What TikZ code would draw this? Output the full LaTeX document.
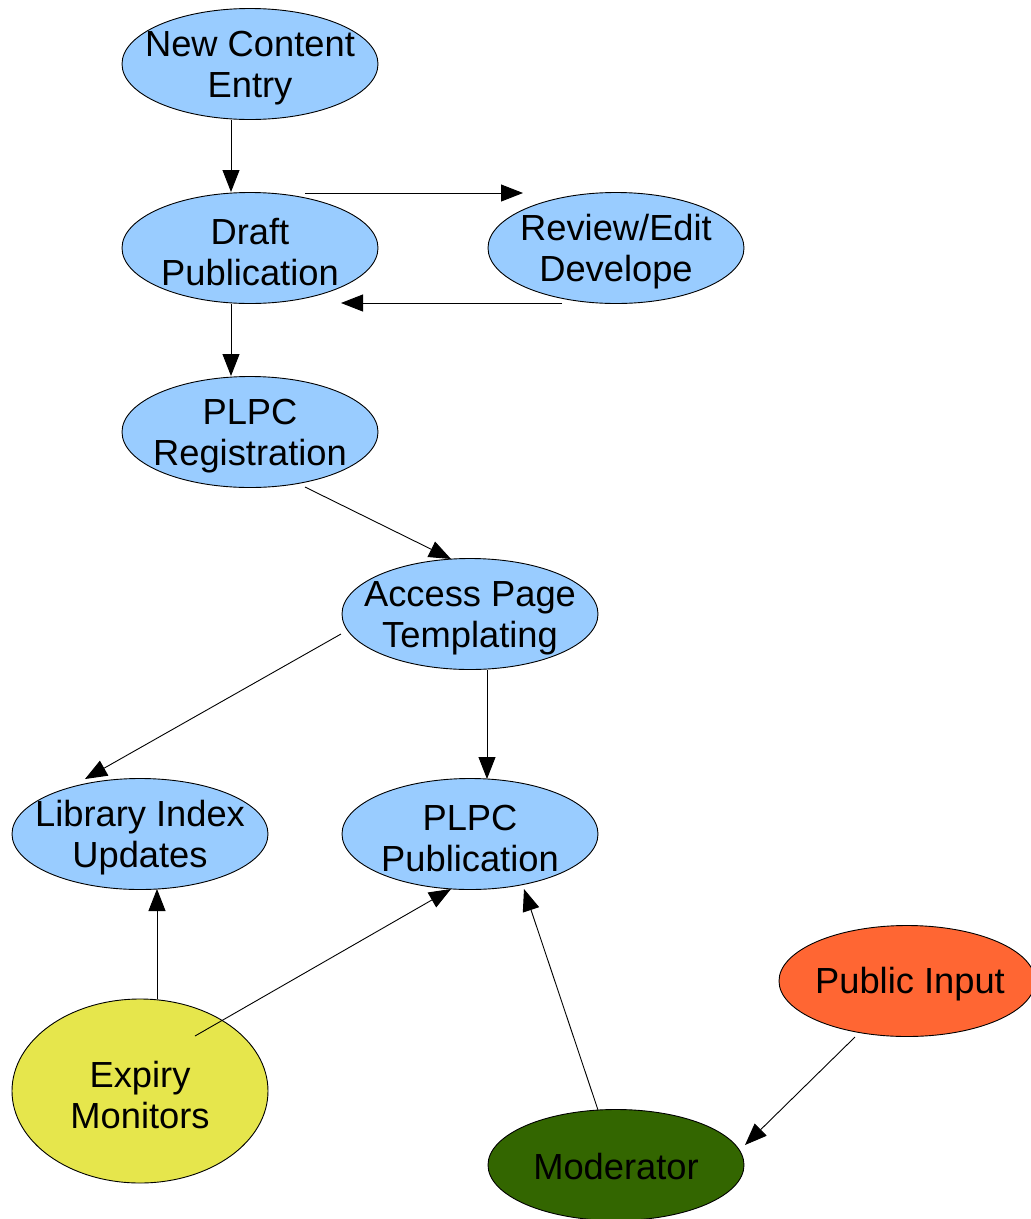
\documentclass[tikz,border=0pt]{standalone}
\usepackage{fontspec}
\setmainfont{Liberation Sans}
\usetikzlibrary{shapes.geometric,arrows.meta,calc}
\definecolor{nodeblue}{RGB}{153,204,255}
\definecolor{expyellow}{RGB}{230,230,76}
\definecolor{puborange}{RGB}{255,102,51}
\definecolor{moddgreen}{RGB}{51,102,0}
\tikzset{
  flowell/.style={shape=ellipse, draw=black, line width=0.9pt, fill=nodeblue,
    minimum width=256pt, minimum height=111pt, inner sep=0pt},
  txt/.style={align=center, font=\fontsize{36.3}{41}\selectfont, inner sep=0pt, yshift=-4pt},
  conn/.style={line width=0.9pt, -{Triangle[length=22pt,width=17pt]}}
}
\begin{document}
\begin{tikzpicture}[x=1pt,y=-1pt]
\useasboundingbox (0,0) rectangle (1031,1219);
\clip (0,0) rectangle (1031,1219);
\node[flowell] (nce) at (250,64) {};
\node[txt] at (nce.center) {New Content\\Entry};
\node[flowell] (draft) at (250,248) {};
\node[txt] at (draft.center) {Draft\\Publication};
\node[flowell] (review) at (616,248) {};
\node[txt] at (review.center) {Review/Edit\\Develope};
\node[flowell] (reg) at (250,432) {};
\node[txt] at (reg.center) {PLPC\\Registration};
\node[flowell] (access) at (470,614) {};
\node[txt] at (access.center) {Access Page\\Templating};
\node[flowell] (lib) at (140,834) {};
\node[txt] at (lib.center) {Library Index\\Updates};
\node[flowell] (pub) at (470,834) {};
\node[txt] at (pub.center) {PLPC\\Publication};
\node[flowell, fill=expyellow, minimum height=184pt] (exp) at (140,1091) {};
\node[txt] at (exp.center) {Expiry\\Monitors};
\node[flowell, fill=puborange] (pin) at (907,981) {};
\node[txt, yshift=1pt] at ($(pin.center)+(3,0)$) {Public Input};
\node[flowell, fill=moddgreen] (mod) at (616,1165) {};
\node[txt, yshift=2pt] at (mod.center) {Moderator};

\draw[conn] ($(nce.center)+(-19,56)$) -- ($(draft.center)+(-19,-56)$);
\draw[conn] ($(draft.center)+(55,-55)$) -- ($(review.center)+(-93,-55)$);
\draw[conn] ($(review.center)+(-54,55)$) -- ($(draft.center)+(91,55)$);
\draw[conn] ($(draft.center)+(-19,56)$) -- ($(reg.center)+(-19,-56)$);
\draw[conn] ($(reg.center)+(55,55)$) -- ($(access.center)+(-19,-55)$);
\draw[conn] ($(access.center)+(-129,20)$) -- ($(lib.center)+(-55,-55)$);
\draw[conn] ($(access.center)+(17,56)$) -- ($(pub.center)+(17,-55)$);
\draw[conn] ($(exp.center)+(17,-92)$) -- ($(lib.center)+(17,55)$);
\draw[conn] ($(exp.center)+(55,-55)$) -- ($(pub.center)+(-19,55)$);
\draw[conn] ($(mod.center)+(-18,-55)$) -- ($(pub.center)+(54,55)$);
\draw[conn] ($(pin.center)+(-52,56)$) -- ($(mod.center)+(129,-20)$);
\end{tikzpicture}
\end{document}
